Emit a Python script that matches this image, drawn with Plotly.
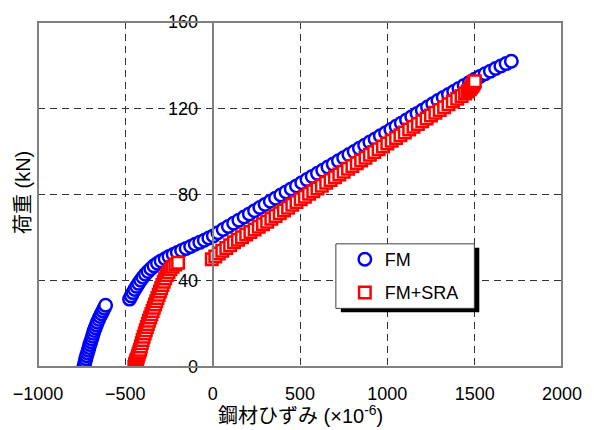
import plotly.graph_objects as go

# ---------------- data ----------------
fm_strain = [
    -738, -734, -730, -726, -722, -717, -712, -708, -703, -698, -693, -688,
    -683, -678, -672, -666, -660, -652, -645, -637, -629, -621, -613,
    -476, -466, -456, -446, -435, -424, -412, -399, -385, -370, -354, -336,
    -316, -295, -272, -250, -226, -202, -178, -152, -126, -100, -74, -48, -22, 4,
    30, 60, 90, 120, 150, 180, 210, 240, 270, 300, 330, 360, 390, 420, 450,
    480, 510, 540, 570, 600, 630, 660, 690, 720, 750, 780, 810, 840, 870, 900,
    930, 960, 990, 1020, 1050, 1080, 1110, 1140, 1170, 1200, 1230, 1260, 1290,
    1320, 1350, 1380, 1410, 1440, 1470, 1500, 1530, 1560, 1590, 1620, 1650,
    1680, 1710,
]
fm_load = [
    0, 1.3, 2.6, 3.9, 5.2, 6.5, 7.8, 9.1, 10.4, 11.7, 13, 14.3,
    15.6, 16.9, 18.2, 19.5, 20.8, 22.1, 23.4, 24.7, 26, 27.3, 28.6,
    31.5, 33, 34.5, 36, 37.4, 38.8, 40.2, 41.6, 43, 44.3, 45.6, 46.9,
    48.1, 49.2, 50.2, 51.2, 52.2, 53.1, 54, 55, 55.9, 56.9, 57.8, 58.8, 59.8, 60.8,
    62.3, 63.8, 65.2, 66.7, 68.1, 69.6, 71.0, 72.5, 74.0, 75.4, 76.9, 78.3, 79.8, 81.2, 82.6,
    84.0, 85.5, 86.9, 88.4, 89.8, 91.2, 92.7, 94.1, 95.6, 97.0, 98.5, 99.9, 101.4, 102.8, 104.3,
    105.7, 107.2, 108.6, 110.1, 111.6, 113.1, 114.6, 116.1, 117.6, 119.1, 120.6, 122.1, 123.6,
    125.0, 126.4, 127.8, 129.2, 130.6, 132.0, 133.4, 134.7, 136.0, 137.2, 138.4, 139.6,
    140.7, 141.8,
]

sra_strain = [
    -448, -446, -444, -442, -440, -438, -436, -434, -431, -428, -424, -420,
    -416, -411, -406, -401, -395, -389, -383, -377, -371, -365, -358, -351,
    -344, -337, -330, -323, -316, -309, -302, -295, -288, -280, -272, -263,
    -253, -242, -229, -214, -198,
    -5, 15, 35, 55, 78, 100, 122, 145, 168, 192, 216, 240, 264, 288, 312, 336,
    360, 384, 408, 432, 456, 480, 504, 528, 552, 576, 600, 625, 650, 675, 700,
    725, 750, 775, 800, 825, 850, 875, 900, 925, 950, 975, 1000, 1025, 1050,
    1075, 1100, 1125, 1150, 1175, 1200, 1225, 1250, 1275, 1300, 1325, 1350,
    1375, 1400, 1425, 1445, 1460, 1472, 1480, 1487, 1492, 1497, 1501,
]
sra_load = [
    0, 0.5, 1, 1.5, 2, 2.5, 3, 3.5, 4, 5, 6, 7,
    8, 9.5, 11, 12.5, 14, 15.5, 17, 18.5, 20, 21.5, 23, 24.5,
    26, 27.5, 29, 30.5, 32, 33.5, 35, 36.5, 38, 39.5, 41, 42.5,
    44, 45.3, 46.5, 47.5, 48.3,
    50, 51.3, 52.6, 53.9, 55.2, 56.5, 57.8, 59.0, 60.2, 61.4, 62.6, 63.8, 65.0, 66.2, 67.4, 68.7,
    70.0, 71.3, 72.6, 73.9, 75.2, 76.5, 77.8, 79.0, 80.3, 81.5, 82.8, 84.1, 85.4, 86.7, 88.0,
    89.3, 90.6, 91.9, 93.2, 94.5, 95.8, 97.1, 98.4, 99.7, 101.0, 102.3, 103.6, 104.9, 106.2,
    107.5, 108.8, 110.1, 111.4, 112.7, 114.0, 115.3, 116.6, 117.9, 119.2, 120.5, 121.8,
    123.1, 124.4, 125.7, 126.8, 127.8, 128.8, 129.6, 130.4, 131.1, 131.8, 132.5,
]

x_ticks = [-1000, -500, 0, 500, 1000, 1500, 2000]
y_ticks = [0, 40, 80, 120, 160]
series_names = ["FM", "FM+SRA"]
x_title = "鋼材ひずみ (×10<sup>-6</sup>)"
y_title = "荷重 (kN)"

# ---------------- layout geometry ----------------
W, H = 594, 430
L, R, T, B = 38, 30, 14, 63
PW, PH = W - L - R, H - T - B


def px_x(p):
    return (p - L) / PW


def px_y(p):
    return (H - B - p) / PH


FONT = "Liberation Sans, Arial, Noto Sans CJK JP, sans-serif"

fig = go.Figure()
fig.add_trace(go.Scatter(
    x=fm_strain, y=fm_load, mode="markers", name=series_names[0],
    marker=dict(symbol="circle", size=12.5, color="white",
                line=dict(color="#0000FF", width=2.5)),
    legend="legend",
))
fig.add_trace(go.Scatter(
    x=sra_strain, y=sra_load, mode="markers", name=series_names[1],
    marker=dict(symbol="square", size=11.5, color="white",
                line=dict(color="#FF0000", width=2.5)),
    legend="legend2",
))

grid_dash = "7px,5px"
fig.update_layout(
    width=W, height=H,
    margin=dict(l=L, r=R, t=T, b=B, pad=0),
    paper_bgcolor="white", plot_bgcolor="white",
    font=dict(family=FONT, size=18, color="black"),
    xaxis=dict(
        range=[-1000, 2000], domain=[0, 1], tickvals=x_ticks,
        showgrid=True, gridcolor="#333333", gridwidth=1, griddash=grid_dash,
        zeroline=False, showline=False, ticks="", ticklabelstandoff=14,
        tickfont=dict(size=18),
    ),
    yaxis=dict(
        range=[0, 160], domain=[0, 1], tickvals=y_ticks,
        anchor="free", position=1 / 3,
        showgrid=True, gridcolor="#333333", gridwidth=1, griddash=grid_dash,
        zeroline=False, showline=True, linecolor="#808080", linewidth=2,
        ticks="outside", ticklen=6, tickcolor="#333333", tickwidth=1,
        ticklabelstandoff=4, tickfont=dict(size=18),
    ),
    legend=dict(
        x=px_x(346), y=px_y(257), xanchor="left", yanchor="middle",
        bgcolor="rgba(0,0,0,0)", borderwidth=0, font=dict(size=18),
    ),
    legend2=dict(
        x=px_x(346), y=px_y(291), xanchor="left", yanchor="middle",
        bgcolor="rgba(0,0,0,0)", borderwidth=0, font=dict(size=18),
    ),
    showlegend=True,
    shapes=[
        # plot frame
        dict(type="rect", xref="paper", yref="paper", x0=0, x1=1, y0=0, y1=1,
             line=dict(color="#808080", width=2), layer="above"),
        # legend shadow
        dict(type="rect", xref="paper", yref="paper",
             x0=px_x(342), x1=px_x(481), y0=px_y(311), y1=px_y(245),
             line=dict(width=0), fillcolor="black", layer="above"),
        # legend box
        dict(type="rect", xref="paper", yref="paper",
             x0=px_x(337), x1=px_x(476), y0=px_y(307), y1=px_y(241),
             line=dict(color="#404040", width=1), fillcolor="white", layer="above"),
    ],
    annotations=[
        dict(text=x_title, xref="paper", yref="paper", x=px_x(301), y=px_y(416),
             xanchor="center", yanchor="middle", showarrow=False,
             font=dict(size=20)),
        dict(text=y_title, xref="paper", yref="paper", x=px_x(23), y=px_y(189),
             xanchor="center", yanchor="middle", showarrow=False, textangle=-90,
             font=dict(size=20)),
    ],
)

fig.write_html("out.html")
